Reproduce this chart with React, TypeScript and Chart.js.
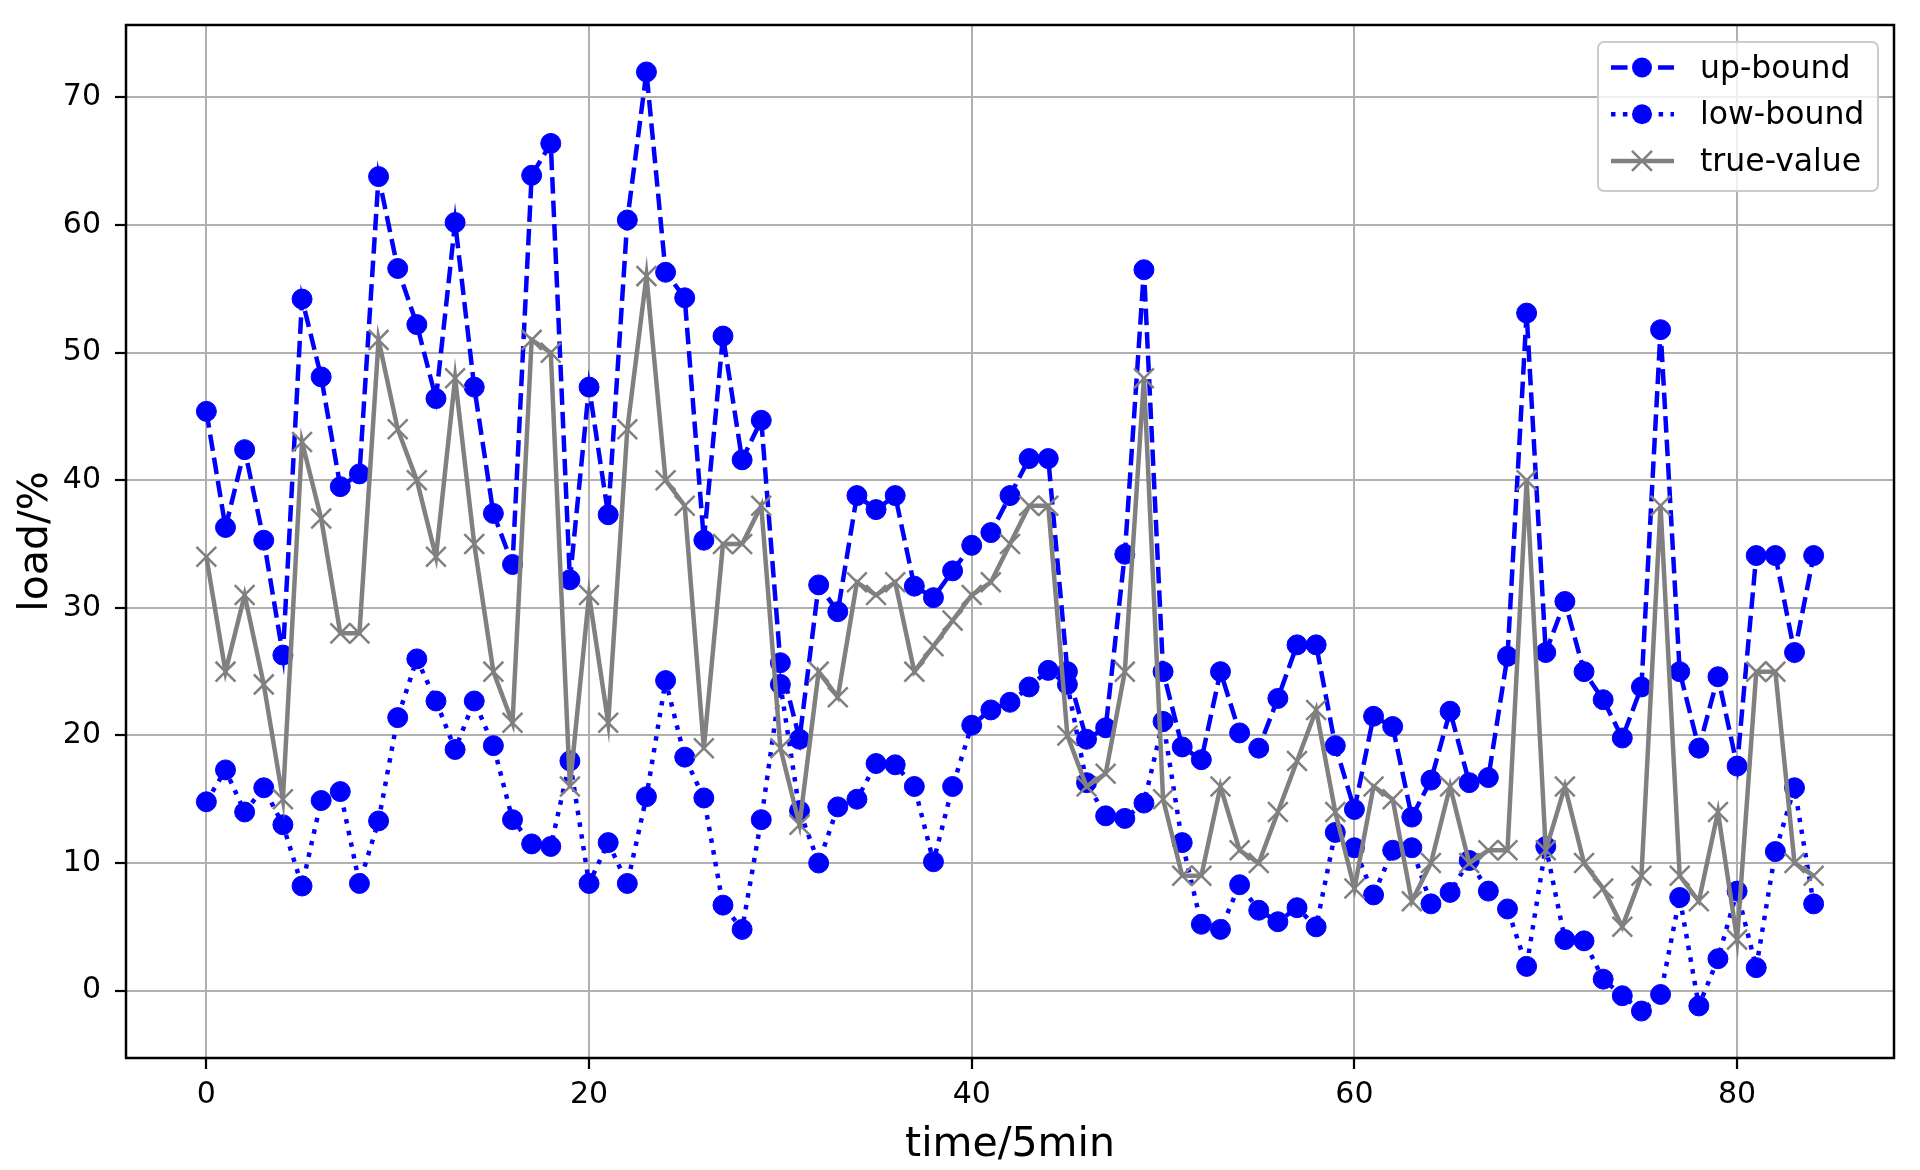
import React, { useRef, useEffect } from "react";
import Chart from "chart.js/auto";

// values, index = time step (5 min)
const upBound = [
	45.4, 36.3, 42.4, 35.3, 26.3, 54.2, 48.1, 39.5, 40.5, 63.8,
	56.6, 52.2, 46.4, 60.2, 47.3, 37.4, 33.4, 63.9, 66.4, 32.2,
	47.3, 37.3, 60.4, 72.0, 56.3, 54.3, 35.3, 51.3, 41.6, 44.7,
	25.7, 19.7, 31.8, 29.7, 38.8, 37.7, 38.8, 31.7, 30.8, 32.9,
	34.9, 35.9, 38.8, 41.7, 41.7, 25.0, 19.7, 20.6, 34.2, 56.5,
	25.0, 19.1, 18.1, 25.0, 20.2, 19.0, 22.9, 27.1, 27.1, 19.2,
	14.2, 21.5, 20.7, 13.6, 16.5, 21.9, 16.3, 16.7, 26.2, 53.1,
	26.5, 30.5, 25.0, 22.8, 19.8, 23.8, 51.8, 25.0, 19.0, 24.6,
	17.6, 34.1, 34.1, 26.5, 34.1,
];
const lowBound = [
	14.8, 17.3, 14.0, 15.9, 13.0, 8.2, 14.9, 15.6, 8.4, 13.3,
	21.4, 26.0, 22.7, 18.9, 22.7, 19.2, 13.4, 11.5, 11.3, 18.0,
	8.4, 11.6, 8.4, 15.2, 24.3, 18.3, 15.1, 6.7, 4.8, 13.4,
	24.0, 14.1, 10.0, 14.4, 15.0, 17.8, 17.7, 16.0, 10.1, 16.0,
	20.8, 22.0, 22.6, 23.8, 25.1, 24.0, 16.3, 13.7, 13.5, 14.7,
	21.1, 11.6, 5.2, 4.8, 8.3, 6.3, 5.4, 6.5, 5.0, 12.4,
	11.2, 7.5, 11.0, 11.2, 6.8, 7.7, 10.2, 7.8, 6.4, 1.9,
	11.3, 4.0, 3.9, 0.9, -0.4, -1.6, -0.3, 7.3, -1.2, 2.5,
	7.8, 1.8, 10.9, 15.9, 6.8,
];
const trueValue = [
	34, 25, 31, 24, 15, 43, 37, 28, 28, 51,
	44, 40, 34, 48, 35, 25, 21, 51, 50, 16,
	31, 21, 44, 56, 40, 38, 19, 35, 35, 38,
	19, 13, 25, 23, 32, 31, 32, 25, 27, 29,
	31, 32, 35, 38, 38, 20, 16, 17, 25, 48,
	15, 9, 9, 16, 11, 10, 14, 18, 22, 14,
	8, 16, 15, 7, 10, 16, 10, 11, 11, 40,
	11, 16, 10, 8, 5, 9, 38, 9, 7, 14,
	4, 25, 25, 10, 9,
];
const seriesLabels = ["up-bound", "low-bound", "true-value"];
const xTicks = [0, 20, 40, 60, 80];
const yTicks = [0, 10, 20, 30, 40, 50, 60, 70];
const xTitle = "time/5min";
const yTitle = "load/%";

const FONT = "'DejaVu Sans', sans-serif";
const BLUE = "#0000ff";
const GREY = "#808080";

const styles = [
	{ color: BLUE, dash: [16.5, 7], marker: "circle" },
	{ color: BLUE, dash: [4.5, 7.4], marker: "circle" },
	{ color: GREY, dash: [], marker: "x" },
];

function toPoints(values: number[]) {
	return values.map((v, i) => ({ x: i, y: v }));
}

// black box round the plot area, drawn over the lines like matplotlib spines
const framePlugin = {
	id: "frame",
	afterDatasetsDraw(chart: any) {
		const { ctx, chartArea } = chart;
		ctx.save();
		ctx.strokeStyle = "#000";
		ctx.lineWidth = 2.5;
		ctx.strokeRect(chartArea.left, chartArea.top, chartArea.right - chartArea.left, chartArea.bottom - chartArea.top);
		ctx.restore();
	},
};

const titlesPlugin = {
	id: "titles",
	afterDraw(chart: any) {
		const { ctx, chartArea } = chart;
		ctx.save();
		ctx.fillStyle = "#000";
		ctx.font = `41px ${FONT}`;
		ctx.textAlign = "center";
		ctx.textBaseline = "alphabetic";
		ctx.fillText(xTitle, (chartArea.left + chartArea.right) / 2, 1156);
		ctx.translate(47, (chartArea.top + chartArea.bottom) / 2);
		ctx.rotate(-Math.PI / 2);
		ctx.fillText(yTitle, 0, 0);
		ctx.restore();
	},
};

function drawMarker(ctx: CanvasRenderingContext2D, kind: string, x: number, y: number, color: string) {
	ctx.setLineDash([]);
	if (kind === "circle") {
		ctx.fillStyle = color;
		ctx.beginPath();
		ctx.arc(x, y, 10, 0, Math.PI * 2);
		ctx.fill();
	} else {
		const d = 10;
		ctx.strokeStyle = color;
		ctx.lineWidth = 2.5;
		ctx.beginPath();
		ctx.moveTo(x - d, y - d);
		ctx.lineTo(x + d, y + d);
		ctx.moveTo(x - d, y + d);
		ctx.lineTo(x + d, y - d);
		ctx.stroke();
	}
}

const legendPlugin = {
	id: "mplLegend",
	afterDraw(chart: any) {
		const { ctx } = chart;
		ctx.save();
		ctx.fillStyle = "rgba(255,255,255,0.8)";
		ctx.strokeStyle = "#cccccc";
		ctx.lineWidth = 2;
		ctx.beginPath();
		ctx.roundRect(1598, 42, 280, 149, 6);
		ctx.fill();
		ctx.stroke();

		ctx.font = `31.5px ${FONT}`;
		ctx.textBaseline = "middle";
		ctx.textAlign = "left";
		seriesLabels.forEach((label, i) => {
			const y = 67.5 + i * 46.7;
			const s = styles[i];
			ctx.strokeStyle = s.color;
			ctx.lineWidth = 4.5;
			ctx.setLineDash(s.dash);
			ctx.beginPath();
			ctx.moveTo(1611, y);
			ctx.lineTo(1674, y);
			ctx.stroke();
			drawMarker(ctx, s.marker, 1642, y, s.color);
			ctx.fillStyle = "#000";
			ctx.fillText(label, 1700, y + 2);
		});
		ctx.restore();
	},
};

function LoadChart() {
	const chartRef = useRef<HTMLCanvasElement>(null);
	const chartInstance = useRef<Chart | null>(null);

	useEffect(() => {
		if (chartInstance.current) {
			chartInstance.current.destroy();
			chartInstance.current = null;
		}
		const ctx = chartRef.current?.getContext("2d");
		if (!ctx) return;

		const tickFont = { family: FONT, size: 30 };
		const grid = {
			color: "#b0b0b0",
			lineWidth: 2,
			tickColor: "#000",
			tickLength: 11,
			tickWidth: 2.2,
		};

		chartInstance.current = new Chart(ctx, {
			type: "line",
			data: {
				datasets: [
					{
						label: seriesLabels[0],
						data: toPoints(upBound),
						borderColor: BLUE,
						borderWidth: 4.5,
						borderDash: styles[0].dash,
						pointStyle: "circle",
						pointRadius: 10,
						pointBackgroundColor: BLUE,
						pointBorderColor: BLUE,
						pointBorderWidth: 1,
						order: 3,
					},
					{
						label: seriesLabels[1],
						data: toPoints(lowBound),
						borderColor: BLUE,
						borderWidth: 4.5,
						borderDash: styles[1].dash,
						pointStyle: "circle",
						pointRadius: 10,
						pointBackgroundColor: BLUE,
						pointBorderColor: BLUE,
						pointBorderWidth: 1,
						order: 2,
					},
					{
						label: seriesLabels[2],
						data: toPoints(trueValue),
						borderColor: GREY,
						borderWidth: 4.5,
						pointStyle: "crossRot",
						pointRadius: 14,
						pointBorderColor: GREY,
						pointBorderWidth: 2.5,
						order: 1,
					},
				],
			},
			options: {
				animation: false,
				responsive: false,
				devicePixelRatio: 1,
				layout: { padding: { top: 25, right: 26, left: 0, bottom: 0 } },
				plugins: {
					legend: { display: false },
					tooltip: { enabled: false },
				},
				scales: {
					x: {
						type: "linear",
						min: -4.2,
						max: 88.2,
						grid,
						border: { display: false },
						ticks: { font: tickFont, color: "#000", padding: 8, maxRotation: 0 },
						afterBuildTicks: (axis: any) => {
							axis.ticks = xTicks.map((v) => ({ value: v }));
						},
						afterFit: (axis: any) => {
							axis.height = 112;
							axis.paddingLeft = 0;
							axis.paddingRight = 0;
						},
					},
					y: {
						type: "linear",
						min: -5.28,
						max: 75.68,
						grid,
						border: { display: false },
						ticks: { font: tickFont, color: "#000", padding: 14 },
						afterBuildTicks: (axis: any) => {
							axis.ticks = yTicks.map((v) => ({ value: v }));
						},
						afterFit: (axis: any) => {
							axis.width = 126;
							axis.paddingTop = 0;
							axis.paddingBottom = 0;
						},
					},
				},
			},
			plugins: [framePlugin, titlesPlugin, legendPlugin],
		} as any);

		return () => {
			if (chartInstance.current) {
				chartInstance.current.destroy();
				chartInstance.current = null;
			}
		};
	}, []);

	return (
		<div style={{ position: "absolute", left: 0, top: 0, width: 1920, height: 1170, background: "#fff" }}>
			<canvas ref={chartRef} width={1920} height={1170} style={{ width: 1920, height: 1170 }}></canvas>
		</div>
	);
}

export default function App() {
	return <LoadChart />;
}
